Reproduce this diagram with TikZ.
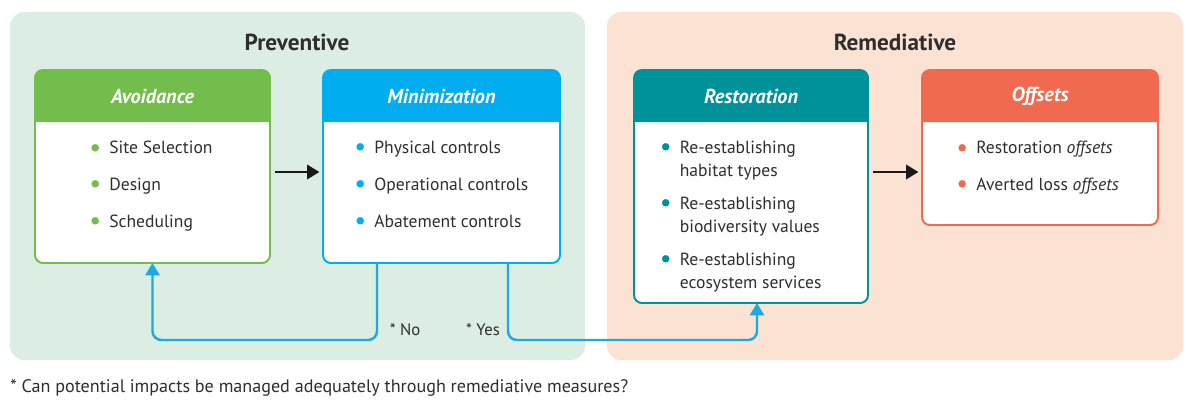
\documentclass[tikz,border=0pt]{standalone}
\usepackage{fontspec}
\setmainfont{PT Sans}
\usepackage{tikz}
\usetikzlibrary{calc,arrows.meta}

\definecolor{prevbg}{HTML}{DCEEE3}
\definecolor{remedbg}{HTML}{FCE2D3}
\definecolor{avgreen}{HTML}{72BD4B}
\definecolor{minblue}{HTML}{00ADEF}
\definecolor{restteal}{HTML}{00929A}
\definecolor{offred}{HTML}{EF6A4E}
\definecolor{flowblue}{HTML}{1FA9E1}
\definecolor{textgray}{HTML}{2E2E2E}

\def\boxhead[#1](#2)#3{\fill[#1] ($(#2.north west)+(0,-1.04)$) {[rounded corners=4.5pt] -- (#2.north west) -- (#2.north east)} -- ($(#2.north east)+(0,-1.04)$) -- cycle;
	\node[headtext] (#2h) at ($(#2.north)+(0,-0.52)$) {#3};}
\def\bul#1{\makebox[0.4cm][l]{\textcolor{#1}{\raisebox{-0.25ex}{\scalebox{1.5}{•}}}}}

\tikzset{
	panel/.style={rounded corners=8pt},
	box/.style={draw=#1, fill=white, line width=1.1pt, rounded corners=4.5pt, outer sep=0pt},
	headtext/.style={text=white, font=\fontsize{11.5}{13}\selectfont\bfseries\itshape},
	title/.style={text=textgray, font=\fontsize{13.2}{15}\selectfont\bfseries},
	items/.style={anchor=north west, align=left, inner sep=0pt, text=textgray, font=\fontsize{10}{13}\selectfont},
	lbl/.style={text=textgray, font=\fontsize{9.5}{11}\selectfont},
	flow/.style={draw=flowblue, line width=1.4pt, rounded corners=5pt, -{Triangle[length=7pt,width=8pt]}},
	go/.style={draw=black!90, line width=1.6pt, -{Triangle[length=7pt,width=8pt]}}
}

\begin{document}
\begin{tikzpicture}
		%%%%% START %%%%%
		\useasboundingbox (0,0) rectangle (23.88,-8.22);
		
		\fill[prevbg, panel] (0.2,-0.24) rectangle (11.7,-7.2);
		\fill[remedbg, panel] (12.14,-0.24) rectangle (23.66,-7.2);
		\node[title] (prevtitle) at (5.94,-0.84) {Preventive};
		\node[title] (remedtitle) at (17.9,-0.84) {Remediative};
		
		\node[box=avgreen, minimum width=4.7cm, minimum height=3.86cm] (avoid) at (3.05,-3.33) {};
		\boxhead[avgreen](avoid){Avoidance}
		\node[items] (avoidlist) at (1.78,-2.82) {\bul{avgreen}Site Selection\\[8pt]\bul{avgreen}Design\\[8pt]\bul{avgreen}Scheduling};
		
		\node[box=minblue, minimum width=4.74cm, minimum height=3.86cm] (minim) at (8.83,-3.33) {};
		\boxhead[minblue](minim){Minimization}
		\node[items] (minimlist) at (7.08,-2.82) {\bul{minblue}Physical controls\\[8pt]\bul{minblue}Operational controls\\[8pt]\bul{minblue}Abatement controls};
		
		\node[box=restteal, minimum width=4.68cm, minimum height=4.66cm] (restor) at (15.02,-3.73) {};
		\boxhead[restteal](restor){Restoration}
		\node[items] (restorlist) at (13.19,-2.82) {\bul{restteal}Re-establishing\\\hspace*{0.4cm}habitat types\\[5.8pt]\bul{restteal}Re-establishing\\\hspace*{0.4cm}biodiversity values\\[5.8pt]\bul{restteal}Re-establishing\\\hspace*{0.4cm}ecosystem services};
		
		\node[box=offred, minimum width=4.72cm, minimum height=3.1cm] (offset) at (20.8,-2.95) {};
		\boxhead[offred](offset){Offsets}
		\node[items] (offsetlist) at (19.12,-2.82) {\bul{offred}Restoration \textit{offsets}\\[8pt]\bul{offred}Averted loss \textit{offsets}};
		
		\draw[go, shorten <=3pt, shorten >=2pt] ([yshift=-0.11cm]avoid.east) -- ([yshift=-0.11cm]minim.west);
		\draw[go, shorten <=3pt, shorten >=2pt] ([yshift=0.29cm]restor.east) -- ([yshift=-0.49cm]offset.west);
		
		\draw[flow] ([xshift=-1.29cm]minim.south) -- ++(0,-1.54) -| (avoid.south);
		\draw[flow] ([xshift=1.33cm]minim.south) -- ++(0,-1.54) -| ([xshift=0.12cm]restor.south);
		\node[lbl] (nolbl) at (8.1,-6.6) {* No};
		\node[lbl] (yeslbl) at (9.66,-6.6) {* Yes};
		
		\node[lbl, anchor=west, inner sep=0pt, font=\fontsize{10.3}{12}\selectfont] (note) at (0.2,-7.76) {* Can potential impacts be managed adequately through remediative measures?};
		
		%%%%% END %%%%%
\end{tikzpicture}
\end{document}
